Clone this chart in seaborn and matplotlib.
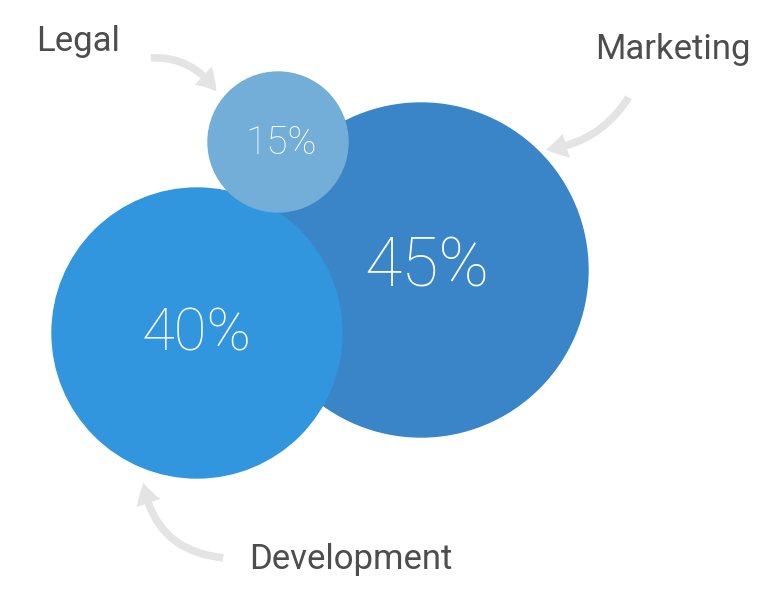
import matplotlib
matplotlib.use("Agg")
import matplotlib.pyplot as plt
from matplotlib.patches import Circle, FancyArrowPatch
import seaborn as sns

# data
departments = ["Marketing", "Development", "Legal"]
shares = [45, 40, 15]

# layout in pixel coordinates (y down)
centers = [(421, 270), (197, 333), (278, 142)]
radii = [167, 145, 70]
colors = ["#3a84c8", "#3196de", "#72aed8"]
pct_pos = [(427, 268), (197, 334), (281, 143)]
pct_sizes = [49, 43, 28]
label_pos = [(673, 50), (351, 559), (78, 41)]
arrows = [((630, 95), (543, 150), -0.25),
          ((226, 558), (143, 480), -0.4),
          ((148, 58), (218, 94), -0.3)]

sns.set_theme(style="white")
plt.rcParams["font.family"] = ["Roboto", "DejaVu Sans"]

fig = plt.figure(figsize=(7.81, 6.05), dpi=100)
ax = fig.add_axes([0, 0, 1, 1])
ax.set_xlim(0, 781)
ax.set_ylim(605, 0)
ax.set_aspect("equal")
ax.axis("off")

for i, dep in enumerate(departments):
    ax.add_patch(Circle(centers[i], radii[i], color=colors[i], zorder=2 + i))
    px, py = pct_pos[i]
    ax.text(px, py, f"{shares[i]}%", color="white", fontsize=pct_sizes[i],
            fontweight=100, ha="center", va="center", zorder=10)
    lx, ly = label_pos[i]
    ax.text(lx, ly, dep, color="#4d4d4d", fontsize=25, fontweight="normal",
            ha="center", va="center")

for start, end, rad in arrows:
    ax.add_patch(FancyArrowPatch(start, end, connectionstyle=f"arc3,rad={rad}",
                                 arrowstyle="Simple,tail_width=0.55,head_width=1.8,head_length=1.5",
                                 mutation_scale=10, color="#e4e4e4", lw=0, zorder=1))

fig.savefig("out.png", dpi=100)
